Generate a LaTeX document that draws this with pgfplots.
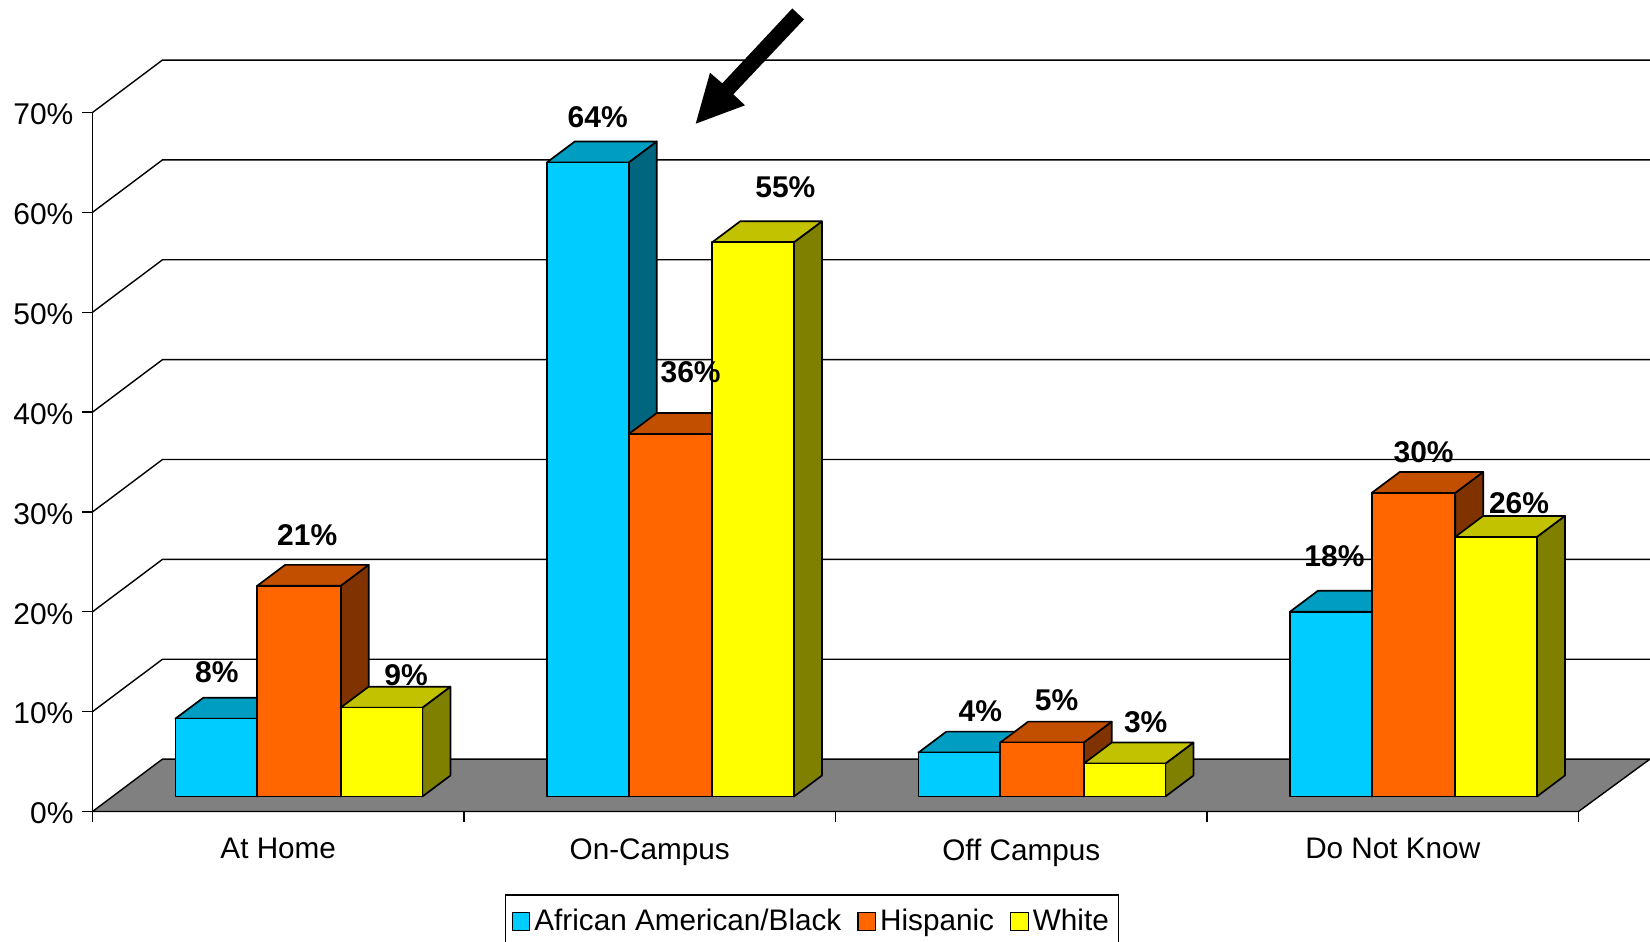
\documentclass[border=0pt]{standalone}
\usepackage{fontspec}
\setmainfont{Liberation Sans}
\usepackage{pgfplots}
\pgfplotsset{compat=1.18}

\definecolor{blueF}{HTML}{00CCFF}
\definecolor{blueT}{HTML}{009DC2}
\definecolor{blueS}{HTML}{006680}
\definecolor{orangeF}{HTML}{FF6600}
\definecolor{orangeT}{HTML}{C24E00}
\definecolor{orangeS}{HTML}{803300}
\definecolor{yellowF}{HTML}{FFFF00}
\definecolor{yellowT}{HTML}{C2C200}
\definecolor{yellowS}{HTML}{808000}
\definecolor{floorgray}{HTML}{808080}

% one 3D bar: left x, right x, value, colour prefix
\newcommand{\threedbar}[4]{%
  \pgfmathsetmacro{\xa}{#1}\pgfmathsetmacro{\xb}{#2}%
  \pgfmathsetmacro{\xc}{#2+0.0754}\pgfmathsetmacro{\xd}{#1+0.0754}%
  \pgfmathsetmacro{\yt}{1.5+#3}\pgfmathsetmacro{\ytt}{1.5+#3+2.1}%
  \pgfmathsetmacro{\ybb}{1.5+2.1}%
  \addplot[draw=black,fill=#4S,line width=0.85pt,line join=round,forget plot] coordinates {(\xb,1.5) (\xc,\ybb) (\xc,\ytt) (\xb,\yt)} --cycle;
  \addplot[draw=black,fill=#4T,line width=0.85pt,line join=round,forget plot] coordinates {(\xa,\yt) (\xd,\ytt) (\xc,\ytt) (\xb,\yt)} --cycle;
  \addplot[draw=black,fill=#4F,line width=0.85pt,line join=round,forget plot] coordinates {(\xa,1.5) (\xb,1.5) (\xb,\yt) (\xa,\yt)} --cycle;
}
% one category: start x and the three values
\newcommand{\threedgroup}[4]{%
  \threedbar{#1+0.2231}{#1+0.4433}{#2}{blue}%
  \threedbar{#1+0.4433}{#1+0.6680}{#3}{orange}%
  \threedbar{#1+0.6680}{#1+0.8880}{#4}{yellow}%
}
\newcommand{\gridlevel}[1]{%
  \pgfmathsetmacro{\ya}{#1+5.25}%
  \addplot[black,line width=0.7pt,forget plot] coordinates {(0,#1) (0.1884,\ya) (4.1925,\ya)};
}
\newcommand{\vlabel}[3]{\node[font=\bfseries\fontsize{15}{18}\selectfont,inner sep=0pt] at (axis cs:#1,#2) {#3};}

\begin{document}
\begin{tikzpicture}
\path[clip,use as bounding box] (-46.25pt,-65.25pt) rectangle (778.75pt,405.75pt);
\begin{axis}[
    at={(0pt,0pt)},
    anchor=south west,
    scale only axis,
    width=743pt,
    height=349.5pt,
    xmin=0, xmax=4,
    ymin=0, ymax=70,
    clip=false,
    axis x line*=bottom,
    axis y line*=left,
    axis line style={-,line width=0.8pt},
    xtick={0.5,1.5,2.5,3.5},
    xticklabels={At Home,On-Campus,Off Campus,Do Not Know},
    minor xtick={0,1,2,3,4},
    ytick={0,10,...,70},
    yticklabel={\pgfmathprintnumber{\tick}\%},
    /pgf/number format/assume math mode=true,
    tick align=outside,
    tick style={black,line width=0.7pt},
    major x tick style={draw=none},
    minor tick length=5.5pt,
    major tick length=5pt,
    tick label style={font=\fontsize{15}{18}\selectfont},
    xticklabel style={yshift=-5pt,font=\fontsize{14.85}{18}\selectfont},
    yticklabel style={yshift=-1pt,xshift=-1pt},
    legend style={
        at={(axis cs:1.110,-8.3)},
        anchor=north west,
        draw=black,
        line width=0.7pt,
        font=\fontsize{14.85}{18}\selectfont,
        legend columns=3,
        inner xsep=3pt,
        inner ysep=5pt,
        /tikz/every even column/.append style={column sep=6pt},
    },
    legend cell align=left,
    legend image code/.code={
        \draw[#1,line width=0.6pt] (-2pt,-4.4pt) rectangle (6.8pt,4.4pt);
    },
]

% gridlines and floor
\gridlevel{10}\gridlevel{20}\gridlevel{30}\gridlevel{40}\gridlevel{50}\gridlevel{60}\gridlevel{70}
\addplot[draw=black,fill=floorgray,line width=0.7pt,forget plot] coordinates {(0,0) (0.1884,5.25) (4.1925,5.25) (4,0)} --cycle;

% at home, on-campus, off campus, do not know
\threedgroup{0}{7.8}{21.1}{8.9}
\threedgroup{1}{63.5}{36.3}{55.5}
\threedgroup{2}{4.4}{5.4}{3.3}
\threedgroup{3}{18.5}{30.4}{26.0}

% arrow
\addplot[fill=black,draw=none,forget plot] coordinates {(1.6238,68.88) (1.6622,73.98) (1.6953,72.92) (1.8837,80.42) (1.9152,79.32) (1.7249,71.82) (1.7564,70.72)} --cycle;

\vlabel{0.3345}{13.95}{8\%}
\vlabel{0.5780}{27.65}{21\%}
\vlabel{0.8440}{13.65}{9\%}
\vlabel{1.3600}{69.50}{64\%}
\vlabel{1.6100}{43.95}{36\%}
\vlabel{1.8650}{62.55}{55\%}
\vlabel{2.3900}{10.05}{4\%}
\vlabel{2.5950}{11.10}{5\%}
\vlabel{2.8350}{8.90}{3\%}
\vlabel{3.3430}{25.60}{18\%}
\vlabel{3.5830}{36.00}{30\%}
\vlabel{3.8400}{30.90}{26\%}

% legend
\addlegendimage{draw=black,fill=blueF}
\addlegendentry{African American/Black}
\addlegendimage{draw=black,fill=orangeF}
\addlegendentry{Hispanic}
\addlegendimage{draw=black,fill=yellowF}
\addlegendentry{White}
\end{axis}
\end{tikzpicture}
\end{document}
